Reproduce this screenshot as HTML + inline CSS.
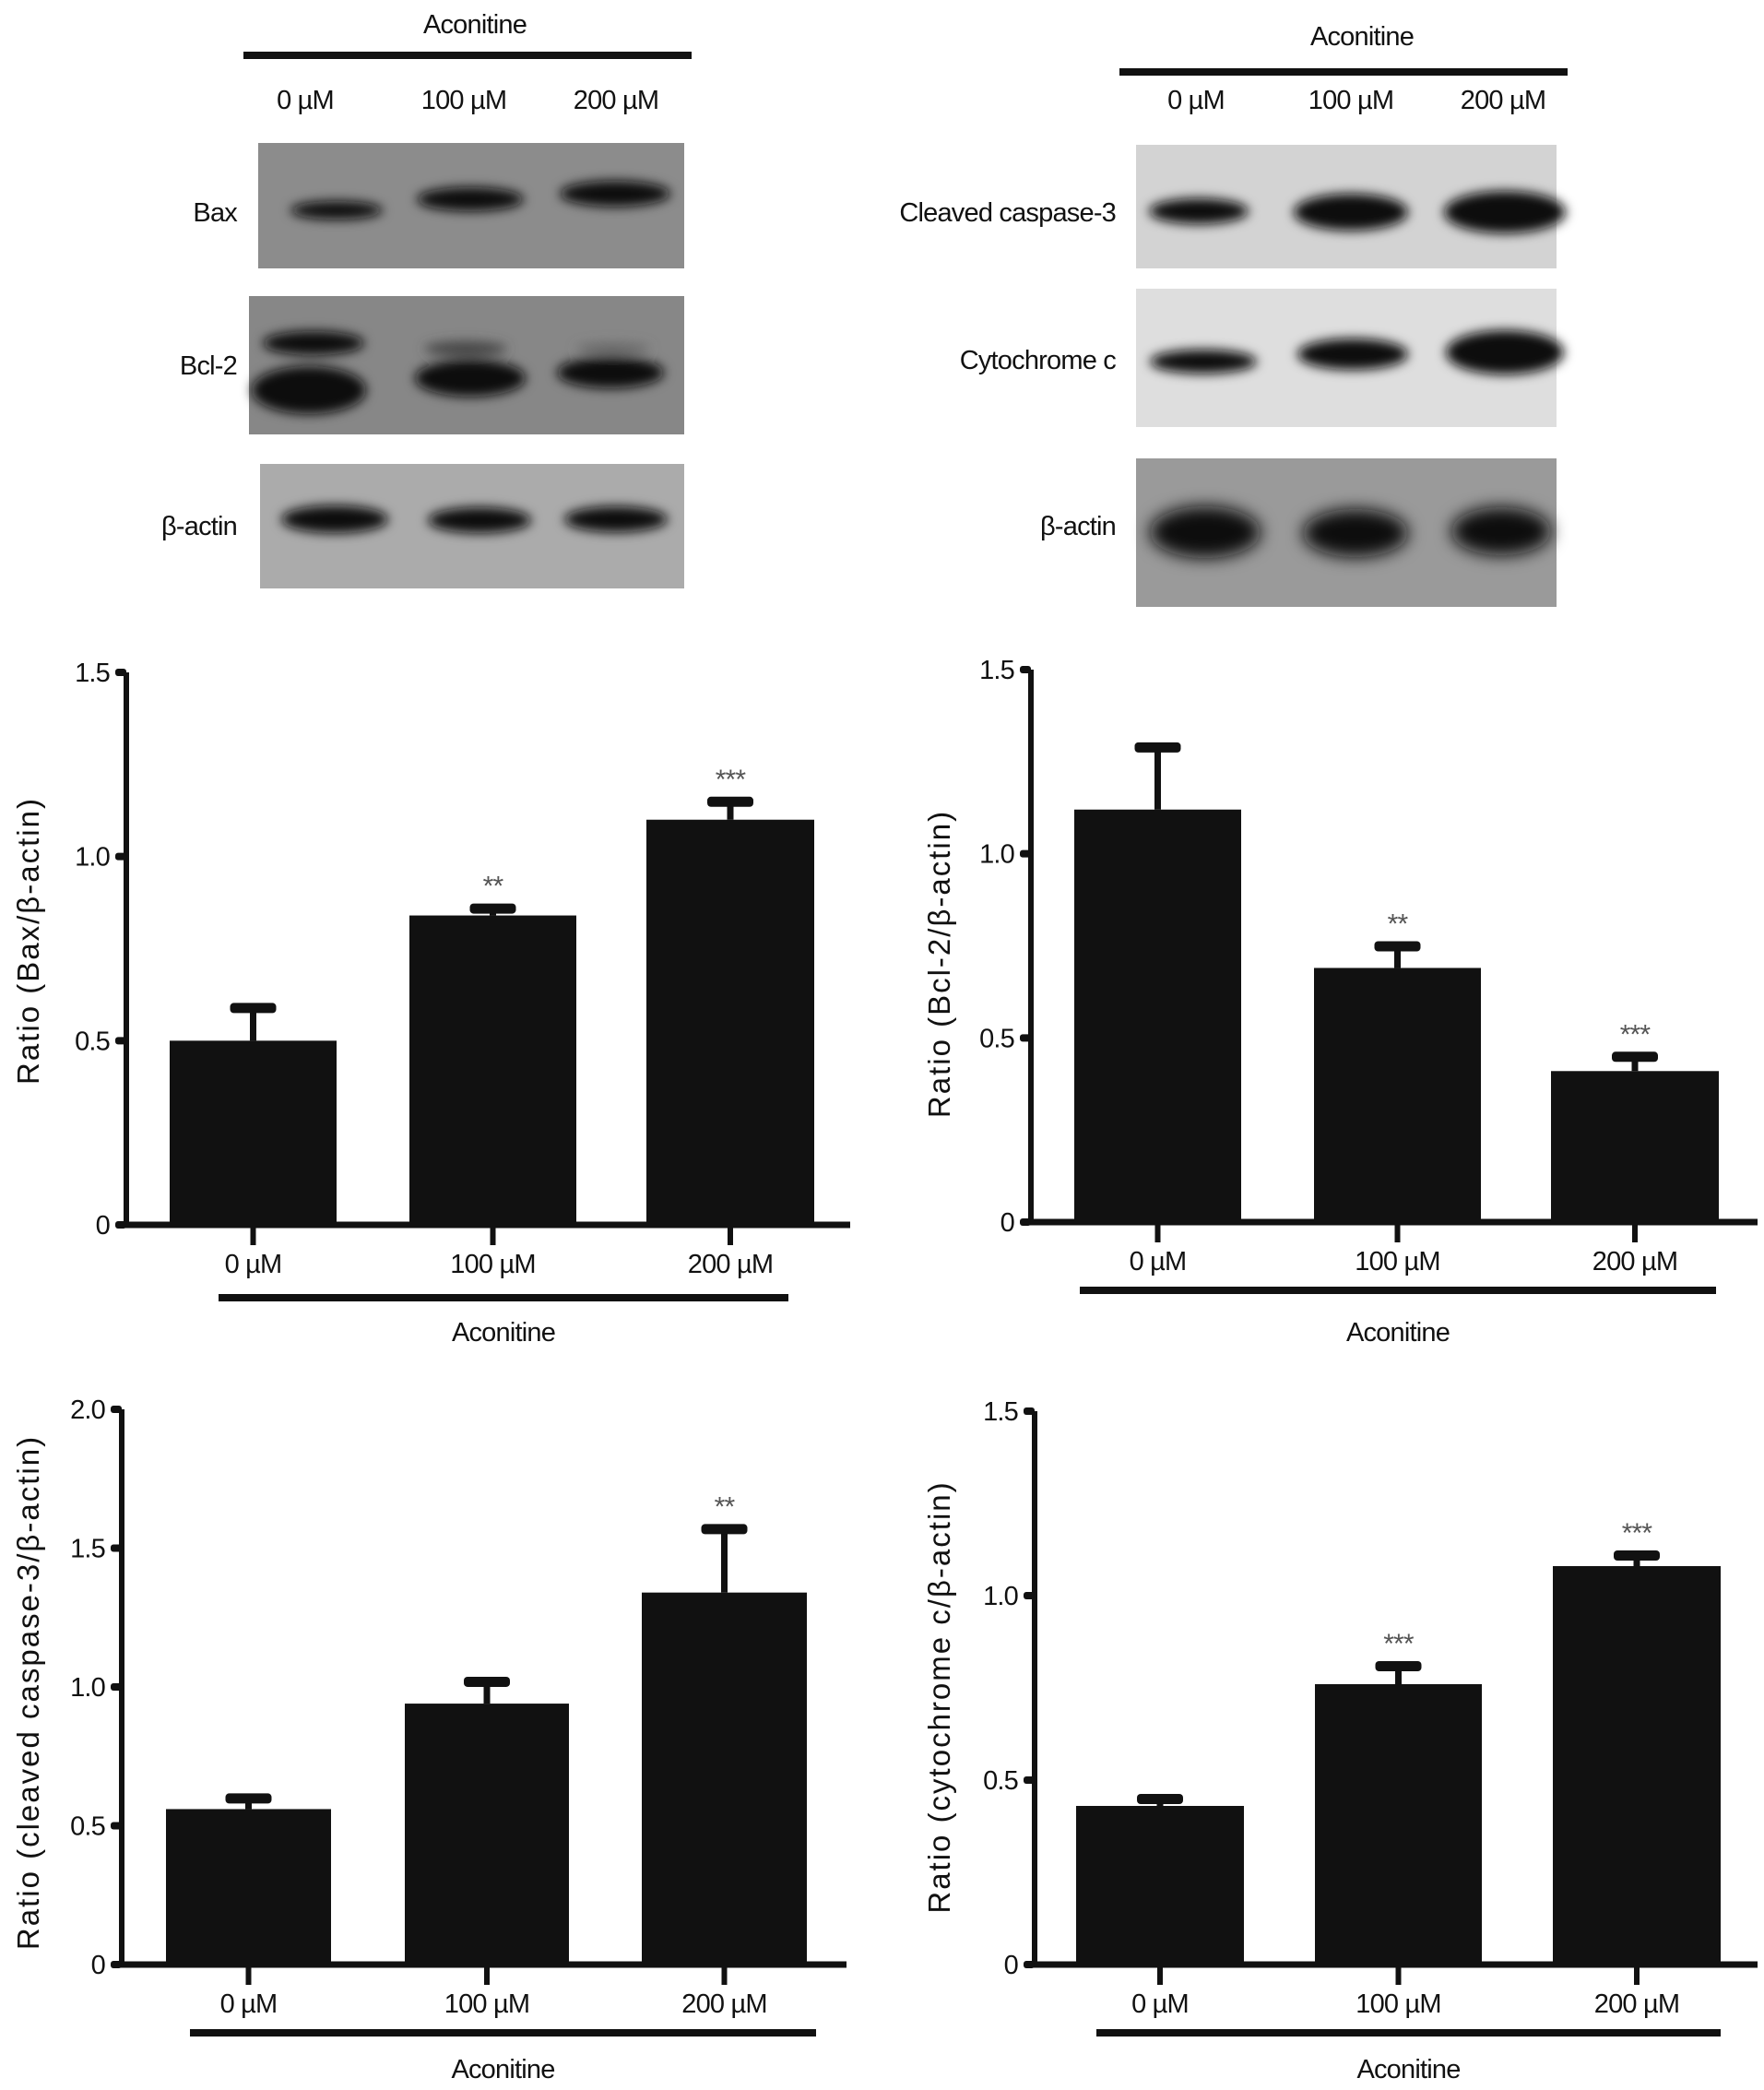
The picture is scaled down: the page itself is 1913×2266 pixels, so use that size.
<!DOCTYPE html>
<html><head><meta charset="utf-8">
<style>
html,body{margin:0;padding:0;background:#fff;}
svg{display:block;}
text{font-family:"Liberation Sans Narrow","Liberation Sans",sans-serif;fill:#111;letter-spacing:-0.8px;}
</style></head>
<body>
<svg id="fig" width="1913" height="2266" viewBox="0 0 1913 2266" xmlns="http://www.w3.org/2000/svg">
<defs>
<filter id="blur" x="-30%" y="-100%" width="160%" height="300%"><feGaussianBlur stdDeviation="6"/></filter>
<filter id="blur2" x="-30%" y="-100%" width="160%" height="300%"><feGaussianBlur stdDeviation="9"/></filter>
</defs>

<g>
<text x="515" y="36" font-size="29" text-anchor="middle">Aconitine</text>
<rect x="264" y="56" width="486" height="8" fill="#111"/>
<text x="331" y="118" font-size="29" text-anchor="middle">0 µM</text>
<text x="503" y="118" font-size="29" text-anchor="middle">100 µM</text>
<text x="668" y="118" font-size="29" text-anchor="middle">200 µM</text>

<rect x="280" y="155" width="462" height="136" fill="#8c8c8c"/>
<g filter="url(#blur)" fill="#111">
<ellipse cx="365" cy="228" rx="50" ry="10"/>
<ellipse cx="510" cy="216" rx="58" ry="13"/>
<ellipse cx="667" cy="210" rx="60" ry="14"/>
</g>
<text x="257" y="240" font-size="29" text-anchor="end">Bax</text>

<rect x="270" y="321" width="472" height="150" fill="#878787"/>
<g filter="url(#blur)" fill="#111">
<ellipse cx="340" cy="372" rx="55" ry="13"/>
<ellipse cx="335" cy="423" rx="62" ry="26"/>
<ellipse cx="505" cy="378" rx="45" ry="8" fill="#444"/>
<ellipse cx="510" cy="410" rx="60" ry="20"/>
<ellipse cx="665" cy="378" rx="40" ry="6" fill="#666"/>
<ellipse cx="662" cy="404" rx="58" ry="17"/>
</g>
<text x="257" y="406" font-size="29" text-anchor="end">Bcl-2</text>

<rect x="282" y="503" width="460" height="135" fill="#ababab"/>
<g filter="url(#blur)" fill="#111">
<ellipse cx="363" cy="563" rx="58" ry="15"/>
<ellipse cx="520" cy="564" rx="56" ry="14"/>
<ellipse cx="668" cy="563" rx="56" ry="14"/>
</g>
<text x="257" y="580" font-size="29" text-anchor="end">β-actin</text>
</g>

<g>
<text x="1477" y="49" font-size="29" text-anchor="middle">Aconitine</text>
<rect x="1214" y="74" width="486" height="8" fill="#111"/>
<text x="1297" y="118" font-size="29" text-anchor="middle">0 µM</text>
<text x="1465" y="118" font-size="29" text-anchor="middle">100 µM</text>
<text x="1630" y="118" font-size="29" text-anchor="middle">200 µM</text>

<rect x="1232" y="157" width="456" height="134" fill="#d3d3d3"/>
<g filter="url(#blur)" fill="#111">
<ellipse cx="1300" cy="229" rx="54" ry="14"/>
<ellipse cx="1465" cy="230" rx="62" ry="20"/>
<ellipse cx="1632" cy="230" rx="66" ry="23"/>
</g>
<text x="1210" y="240" font-size="29" text-anchor="end">Cleaved caspase-3</text>

<rect x="1232" y="313" width="456" height="150" fill="#dedede"/>
<g filter="url(#blur)" fill="#111">
<ellipse cx="1305" cy="392" rx="58" ry="13"/>
<ellipse cx="1467" cy="384" rx="60" ry="17"/>
<ellipse cx="1632" cy="382" rx="64" ry="24"/>
</g>
<text x="1210" y="400" font-size="29" text-anchor="end">Cytochrome c</text>

<rect x="1232" y="497" width="456" height="161" fill="#9a9a9a"/>
<g filter="url(#blur2)" fill="#111">
<ellipse cx="1307" cy="577" rx="60" ry="28"/>
<ellipse cx="1470" cy="578" rx="57" ry="26"/>
<ellipse cx="1628" cy="576" rx="54" ry="26"/>
</g>
<text x="1210" y="580" font-size="29" text-anchor="end">β-actin</text>
</g>

<g id="charts"></g>
</svg>

<script>
const categories = ["0 µM", "100 µM", "200 µM"];
const baxValues = [0.50, 0.84, 1.10];
const baxErrors = [0.09, 0.02, 0.05];
const bcl2Values = [1.12, 0.69, 0.41];
const bcl2Errors = [0.17, 0.06, 0.04];
const caspValues = [0.56, 0.94, 1.34];
const caspErrors = [0.04, 0.08, 0.23];
const cytoValues = [0.43, 0.76, 1.08];
const cytoErrors = [0.02, 0.05, 0.03];
const baxStars = ["", "**", "***"];
const bcl2Stars = ["", "**", "***"];
const caspStars = ["", "", "**"];
const cytoStars = ["", "***", "***"];
const ticks15 = [0, 0.5, 1.0, 1.5];
const tickLabels15 = ["0", "0.5", "1.0", "1.5"];
const ticks20 = [0, 0.5, 1.0, 1.5, 2.0];
const tickLabels20 = ["0", "0.5", "1.0", "1.5", "2.0"];

const NS = "http://www.w3.org/2000/svg";
const root = document.getElementById("charts");
function mk(tag, attrs, parent) {
  const e = document.createElementNS(NS, tag);
  for (const k in attrs) e.setAttribute(k, attrs[k]);
  parent.appendChild(e);
  return e;
}

const charts = [
  {id:"bax", ax:137, y0:1328, ytop:729, max:1.5, xend:922, bars:[[184,365],[444,625],[701,883]], vals:baxValues, errs:baxErrors, stars:baxStars, ticks:ticks15, tl:tickLabels15, title:"Ratio (Bax/β-actin)", tx:42, ty:1020, ul:[237,855,1407], acY:1444},
  {id:"bcl2", ax:1118, y0:1325, ytop:726, max:1.5, xend:1906, bars:[[1165,1346],[1425,1606],[1682,1864]], vals:bcl2Values, errs:bcl2Errors, stars:bcl2Stars, ticks:ticks15, tl:tickLabels15, title:"Ratio (Bcl-2/β-actin)", tx:1030, ty:1045, ul:[1171,1861,1399], acY:1444},
  {id:"caspase3", ax:132, y0:2130, ytop:1528, max:2.0, xend:918, bars:[[180,359],[439,617],[696,875]], vals:caspValues, errs:caspErrors, stars:caspStars, ticks:ticks20, tl:tickLabels20, title:"Ratio (cleaved caspase-3/β-actin)", tx:42, ty:1835, ul:[206,885,2204], acY:2243},
  {id:"cytochrome-c", ax:1122, y0:2130, ytop:1530, max:1.5, xend:1906, bars:[[1167,1349],[1426,1607],[1684,1866]], vals:cytoValues, errs:cytoErrors, stars:cytoStars, ticks:ticks15, tl:tickLabels15, title:"Ratio (cytochrome c/β-actin)", tx:1030, ty:1840, ul:[1189,1866,2204], acY:2243}
];

charts.forEach(c => {
  const g = mk("g", {}, root);
  
  
  const y = v => c.y0 - (v / c.max) * (c.y0 - c.ytop);

  c.vals.forEach((v, i) => {
    const [x1, x2] = c.bars[i];
    const cx = (x1 + x2) / 2;
    const top = y(v + c.errs[i]);
    const el = mk("line", {x1:cx, x2:cx, y1:y(v), y2:top, stroke:"#111", "stroke-width":7}, g);
    
    
    const cap = mk("rect", {x:cx-25, y:top-5, width:50, height:11, rx:4, fill:"#111"}, g);
    
    
    const b = mk("rect", {x:x1, y:y(v), width:x2-x1, height:c.y0-y(v), fill:"#111"}, g);
    
    
    if (c.stars[i]) {
      const s = mk("text", {x:cx, y:top-14, "font-size":30, "text-anchor":"middle"}, g);
      
      
      s.textContent = c.stars[i];
      s.style.fill = "#555";
    }
    const tk = mk("line", {x1:cx, x2:cx, y1:c.y0, y2:c.y0+22, stroke:"#111", "stroke-width":6}, g);
    
    
    const lb = mk("text", {x:cx, y:c.y0+52, "font-size":29, "text-anchor":"middle"}, g);
    
    
    lb.textContent = categories[i];
  });

  const ya = mk("line", {x1:c.ax, x2:c.ax, y1:c.ytop, y2:c.y0+3, stroke:"#111", "stroke-width":6}, g);
  
  
  const xa = mk("line", {x1:c.ax-8, x2:c.xend, y1:c.y0, y2:c.y0, stroke:"#111", "stroke-width":7}, g);
  
  
  c.ticks.forEach((t, i) => {
    const tk = mk("rect", {x:c.ax-12, y:y(t)-4, width:12, height:8, rx:3, fill:"#111"}, g);
    
    
    const tl = mk("text", {x:c.ax-18, y:y(t)+10, "font-size":29, "text-anchor":"end"}, g);
    
    
    tl.textContent = c.tl[i];
  });

  const tt = mk("text", {x:c.tx, y:c.ty, "text-anchor":"middle", transform:"rotate(-90 " + c.tx + " " + c.ty + ")"}, g);
  
  
  tt.style.fontFamily = '"Liberation Sans", sans-serif';
  tt.style.fontSize = "33px";
  tt.style.letterSpacing = "2px";
  tt.textContent = c.title;

  const ul = mk("rect", {x:c.ul[0], y:c.ul[2]-4, width:c.ul[1]-c.ul[0], height:8, fill:"#111"}, g);
  
  
  const ac = mk("text", {x:(c.ul[0]+c.ul[1])/2, y:c.acY+10, "font-size":29, "text-anchor":"middle"}, g);
  
  
  ac.textContent = "Aconitine";
});
</script>
</body></html>
